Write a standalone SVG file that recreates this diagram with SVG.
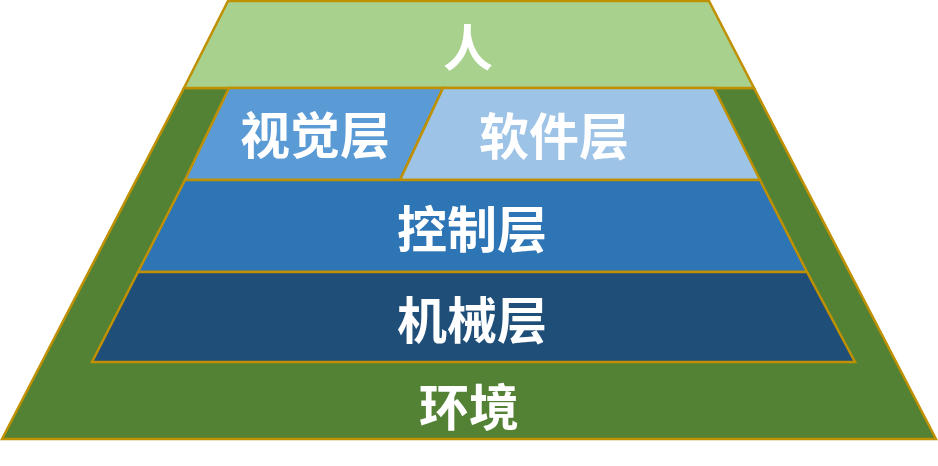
<svg xmlns="http://www.w3.org/2000/svg" width="938" height="466" viewBox="0 0 938 466">
<style>
.s{stroke:#BF9000;stroke-width:2.5;stroke-linejoin:miter}
.t{font-family:"Noto Sans CJK SC","Noto Sans",sans-serif;font-weight:bold;font-size:50px;fill:#FFFFFF;text-anchor:middle}
</style>
<rect width="938" height="466" fill="#FFFFFF"/>
<g id="env">
<polygon class="s" fill="#548235" points="184,88 754,88 936,439 2,439"/>
<text class="t" x="469" y="426">环境</text>
</g>
<g id="human">
<polygon class="s" fill="#A9D18E" points="228,1 709,1 754,88 184,88"/>
<text class="t" x="468" y="66">人</text>
</g>
<g id="vision">
<polygon class="s" fill="#5B9BD5" points="229,88 443,88 400,180 185,180"/>
<text class="t" x="315" y="154">视觉层</text>
</g>
<g id="software">
<polygon class="s" fill="#9DC3E6" points="443,88 714,88 760,180 400,180"/>
<text class="t" x="554" y="155">软件层</text>
</g>
<g id="control">
<polygon class="s" fill="#2E75B6" points="185,180 760,180 807,272 138,272"/>
<text class="t" x="472" y="248">控制层</text>
</g>
<g id="mechanical">
<polygon class="s" fill="#1F4E79" points="138,272 807,272 855,362 92,362"/>
<text class="t" x="472" y="339">机械层</text>
</g>
<g id="connectors"></g>
</svg>
